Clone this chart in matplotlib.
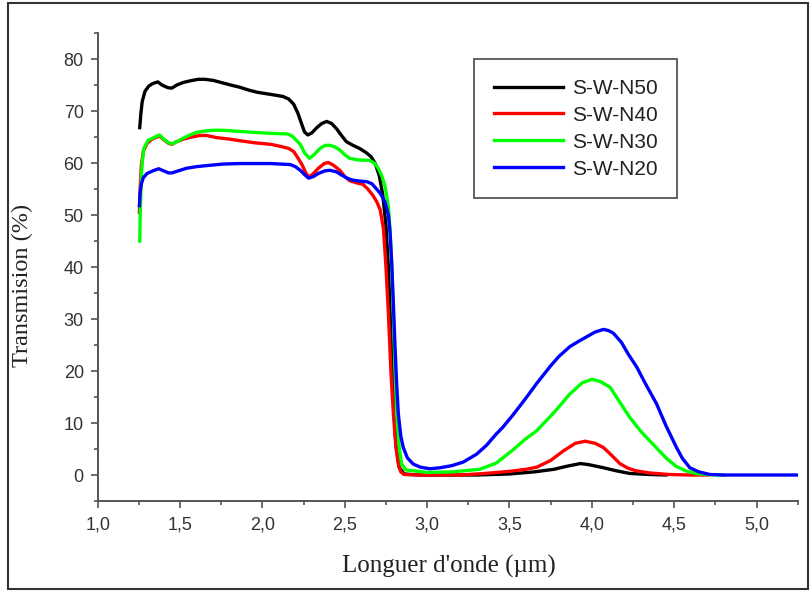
import numpy as np
import matplotlib
matplotlib.use('Agg')
import matplotlib.pyplot as plt
from matplotlib.patches import Rectangle
from matplotlib.ticker import MultipleLocator, FuncFormatter

# values (wavelength in um, transmission in %)
x_n50 = [1.255, 1.262, 1.27, 1.287, 1.31, 1.335, 1.365, 1.39, 1.425, 1.45, 1.48, 1.52,
         1.56, 1.61, 1.65, 1.70, 1.76, 1.82, 1.86, 1.92, 1.97, 2.05, 2.125, 2.16, 2.19,
         2.215, 2.235, 2.255, 2.275, 2.30, 2.33, 2.36, 2.39, 2.42, 2.45, 2.48, 2.51, 2.55,
         2.59, 2.63, 2.66, 2.685, 2.71, 2.73, 2.75, 2.765, 2.78, 2.795, 2.81, 2.83, 2.86,
         2.95, 3.3, 3.5, 3.65, 3.77, 3.85, 3.93, 3.98, 4.07, 4.15, 4.23, 4.35, 4.45]
y_n50 = [66.8, 69.5, 71.8, 73.8, 74.8, 75.3, 75.6, 75.0, 74.5, 74.4, 75.0, 75.5,
         75.8, 76.1, 76.1, 75.9, 75.4, 74.9, 74.6, 74.0, 73.6, 73.2, 72.8, 72.3, 71.3,
         69.6, 67.8, 66.0, 65.4, 65.8, 66.8, 67.6, 68.0, 67.6, 66.6, 65.3, 64.1, 63.4,
         62.8, 62.0, 61.2, 59.9, 57.5, 54.0, 48.0, 40.0, 28.0, 15.0, 6.0, 1.5, 0.2,
         0.0, 0.0, 0.2, 0.6, 1.1, 1.7, 2.2, 2.0, 1.4, 0.8, 0.3, 0.1, 0.0]

x_n40 = [1.253, 1.258, 1.265, 1.277, 1.30, 1.33, 1.36, 1.375, 1.40, 1.43, 1.45, 1.48,
         1.52, 1.57, 1.62, 1.66, 1.72, 1.80, 1.86, 1.95, 2.05, 2.11, 2.16, 2.19, 2.215,
         2.24, 2.265, 2.285, 2.31, 2.34, 2.375, 2.40, 2.43, 2.47, 2.50, 2.53, 2.57, 2.61,
         2.64, 2.67, 2.695, 2.715, 2.735, 2.75, 2.765, 2.78, 2.795, 2.81, 2.825, 2.84,
         2.86, 2.95, 3.2, 3.35, 3.5, 3.6, 3.665, 3.75, 3.83, 3.90, 3.96, 4.02, 4.07, 4.12,
         4.17, 4.22, 4.27, 4.35, 4.47, 4.6, 4.7]
y_n40 = [50.5, 55.5, 59.5, 62.3, 63.8, 64.6, 65.0, 65.2, 64.5, 63.8, 63.6, 64.1,
         64.6, 65.0, 65.3, 65.3, 64.9, 64.6, 64.3, 63.9, 63.6, 63.2, 62.8, 62.2, 61.0,
         59.7, 58.0, 57.3, 58.0, 59.0, 59.9, 60.1, 59.6, 58.6, 57.4, 56.6, 56.2, 55.9,
         55.0, 53.8, 52.5, 51.0, 47.3, 40.0, 31.0, 20.0, 11.8, 5.5, 2.1, 0.6,
         0.1, 0.0, 0.0, 0.3, 0.7, 1.1, 1.5, 2.8, 4.7, 6.1, 6.5, 6.1, 5.3, 3.8,
         2.2, 1.3, 0.8, 0.4, 0.1, 0.0, 0.0]

x_n30 = [1.255, 1.258, 1.263, 1.27, 1.28, 1.307, 1.348, 1.375, 1.40, 1.43, 1.45, 1.48,
         1.52, 1.56, 1.60, 1.64, 1.70, 1.76, 1.90, 2.05, 2.15, 2.18, 2.205, 2.23, 2.255,
         2.285, 2.31, 2.35, 2.38, 2.41, 2.44, 2.47, 2.50, 2.53, 2.58, 2.65, 2.68, 2.705,
         2.725, 2.745, 2.765, 2.775, 2.785, 2.795, 2.805, 2.815, 2.83, 2.845, 2.87, 2.92,
         3.0, 3.15, 3.32, 3.42, 3.52, 3.6, 3.665, 3.77, 3.867, 3.94, 4.00, 4.05, 4.11,
         4.17, 4.23, 4.30, 4.39, 4.45, 4.51, 4.57, 4.64, 4.72, 4.80]
y_n30 = [45.0, 50.0, 56.0, 60.0, 62.8, 64.4, 65.0, 65.4, 64.6, 63.9, 63.7, 64.1,
         64.8, 65.4, 65.9, 66.1, 66.3, 66.3, 66.0, 65.7, 65.6, 65.2, 64.4, 63.6, 62.0,
         60.9, 61.5, 62.8, 63.4, 63.4, 63.1, 62.5, 61.6, 60.9, 60.6, 60.5, 60.0, 58.9,
         57.5, 55.5, 51.5, 47.3, 40.0, 31.0, 20.0, 11.8, 5.5, 2.1, 1.0, 0.8,
         0.5, 0.6, 1.1, 2.3, 4.8, 7.0, 8.5, 12.0, 15.6, 17.7, 18.4, 18.0, 16.9,
         14.0, 11.1, 8.3, 5.3, 3.3, 1.7, 0.8, 0.25, 0.05, 0.0]

x_n20 = [1.253, 1.258, 1.265, 1.277, 1.30, 1.335, 1.37, 1.40, 1.43, 1.45, 1.49, 1.54,
         1.60, 1.66, 1.76, 1.86, 2.05, 2.17, 2.20, 2.23, 2.255, 2.28, 2.31, 2.34, 2.38,
         2.41, 2.45, 2.48, 2.52, 2.55, 2.6, 2.635, 2.665, 2.693, 2.715, 2.744, 2.765,
         2.775, 2.785, 2.795, 2.805, 2.815, 2.825, 2.84, 2.855, 2.88, 2.916, 2.96, 3.017,
         3.08, 3.15, 3.22, 3.30, 3.36, 3.42, 3.46, 3.52, 3.60, 3.665, 3.75, 3.80, 3.867,
         3.93, 3.97, 4.02, 4.07, 4.10, 4.13, 4.18, 4.22, 4.272, 4.33, 4.393, 4.45, 4.514,
         4.55, 4.595, 4.65, 4.717, 4.80, 5.25]
y_n20 = [51.8, 54.5, 56.0, 57.2, 58.0, 58.5, 58.9, 58.5, 58.1, 58.1, 58.5, 59.0,
         59.3, 59.5, 59.8, 59.9, 59.9, 59.7, 59.3, 58.6, 57.8, 57.1, 57.4, 58.0, 58.5,
         58.6, 58.3, 57.7, 57.0, 56.7, 56.5, 56.4, 56.0, 55.0, 54.2, 52.5, 50.0,
         46.6, 40.8, 33.0, 24.7, 17.5, 11.8, 7.5, 5.3, 3.3, 2.1, 1.5, 1.2,
         1.4, 1.8, 2.5, 4.0, 5.7, 7.9, 9.2, 11.5, 14.8, 17.6, 21.0, 22.8, 24.7,
         25.9, 26.6, 27.5, 28.0, 27.8, 27.3, 25.5, 23.3, 20.8, 17.3, 13.7, 9.5, 5.3,
         3.2, 1.4, 0.6, 0.1, 0.0, 0.0]

labels = ['S-W-N50', 'S-W-N40', 'S-W-N30', 'S-W-N20']
colors = ['#000000', '#ff0000', '#00ff00', '#0000ff']
x_ticks = [1.0, 1.5, 2.0, 2.5, 3.0, 3.5, 4.0, 4.5, 5.0]
y_ticks = [0, 10, 20, 30, 40, 50, 60, 70, 80]

series = [(x_n50, y_n50), (x_n40, y_n40), (x_n30, y_n30), (x_n20, y_n20)]

fig = plt.figure(figsize=(8.11, 5.92), dpi=100)
ax = fig.add_axes([0.1205, 0.1537, 0.8631, 0.7905])

for (xs, ys), lab, c in zip(series, labels, colors):
    ax.plot(xs, ys, color=c, lw=2.4, label=lab, solid_joinstyle='round')

ax.set_xlim(1.0, 5.25)
ax.set_ylim(-5, 85)
ax.set_xticks(x_ticks)
ax.set_yticks(y_ticks)
ax.xaxis.set_minor_locator(MultipleLocator(0.25))
ax.yaxis.set_minor_locator(MultipleLocator(5))
ax.xaxis.set_major_formatter(FuncFormatter(lambda v, p: f'{v:.1f}'.replace('.', ',')))

for s in ['top', 'right']:
    ax.spines[s].set_visible(False)
for s in ['left', 'bottom']:
    ax.spines[s].set_color('#555555')
    ax.spines[s].set_linewidth(1.4)

ax.tick_params(which='both', direction='out', color='#555555', width=1.2)
ax.tick_params(which='major', length=5, labelsize=13, labelcolor='#333333', pad=5)
ax.tick_params(which='minor', length=3)
ax.tick_params(axis='x', which='major', pad=6)
for lbl in ax.get_xticklabels() + ax.get_yticklabels():
    lbl.set_family('Liberation Sans')

ax.set_xlabel("Longuer d'onde (\u00b5m)", family='Liberation Serif', fontsize=18, color='#222222')
ax.set_ylabel('Transmision (%)', family='Liberation Serif', fontsize=17.5, color='#222222')
ax.xaxis.set_label_coords(0.501, -0.115)
ax.yaxis.set_label_coords(-0.093, 0.46)

leg = ax.legend(loc='upper left', bbox_to_anchor=(0.5845, 0.9003),
                bbox_transform=fig.transFigure, borderaxespad=0,
                prop={'family': 'Liberation Sans', 'size': 15},
                handlelength=3.3, handletextpad=0.45, labelspacing=0.38,
                borderpad=0.95, fancybox=False, framealpha=1)
leg.get_frame().set_edgecolor('#555555')
leg.get_frame().set_linewidth(1.3)
for line in leg.get_lines():
    line.set_linewidth(2.4)
for t in leg.get_texts():
    t.set_color('#222222')

# outer frame around the whole picture
fig.patches.append(Rectangle((8 / 811, 3 / 592), 800 / 811, 586 / 592,
                             transform=fig.transFigure, fill=False,
                             edgecolor='#333333', lw=1.5))

fig.savefig('out.png', dpi=100)
